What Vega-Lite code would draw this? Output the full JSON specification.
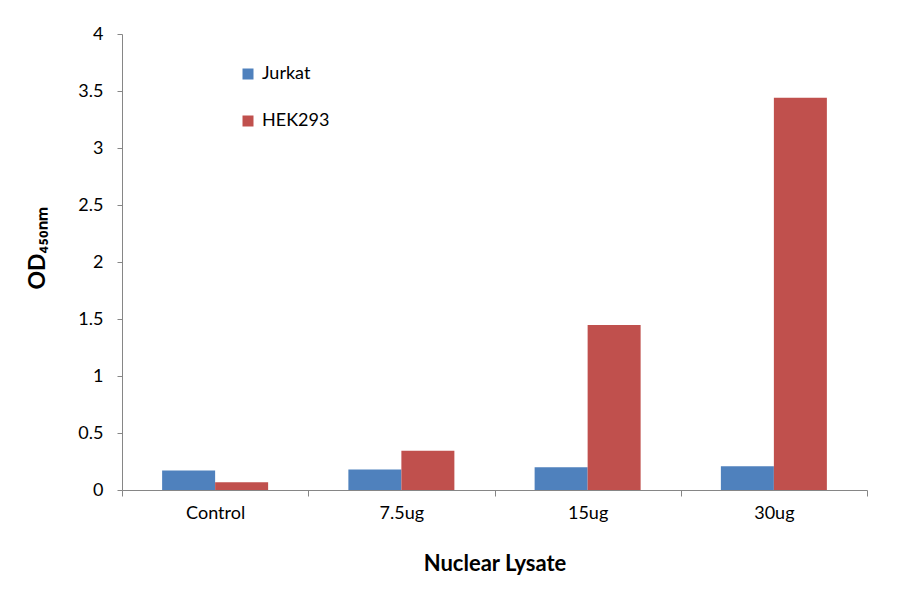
{
  "$schema": "https://vega.github.io/schema/vega-lite/v6.json",
  "width": 745,
  "height": 456,
  "autosize": "none",
  "padding": {"left": 122, "top": 34, "right": 33, "bottom": 104},
  "background": "white",
  "data": {
    "values": [
      {"lysate": "Control", "cell": "Jurkat", "od": 0.17},
      {"lysate": "Control", "cell": "HEK293", "od": 0.068},
      {"lysate": "7.5ug", "cell": "Jurkat", "od": 0.18},
      {"lysate": "7.5ug", "cell": "HEK293", "od": 0.345},
      {"lysate": "15ug", "cell": "Jurkat", "od": 0.199},
      {"lysate": "15ug", "cell": "HEK293", "od": 1.447},
      {"lysate": "30ug", "cell": "Jurkat", "od": 0.208},
      {"lysate": "30ug", "cell": "HEK293", "od": 3.44}
    ]
  },
  "mark": {"type": "bar"},
  "encoding": {
    "x": {
      "field": "lysate",
      "type": "nominal",
      "sort": ["Control", "7.5ug", "15ug", "30ug"],
      "scale": {"paddingInner": 0, "paddingOuter": 0},
      "axis": {
        "title": "Nuclear Lysate",
        "labelAngle": 0,
        "tickBand": "extent",
        "tickSize": 6,
        "labelPadding": 8,
        "titleFontSize": 22,
        "titleFontWeight": "bold",
        "titleBaseline": "middle",
        "titleY": 73
      }
    },
    "xOffset": {
      "field": "cell",
      "type": "nominal",
      "sort": ["Jurkat", "HEK293"],
      "scale": {"paddingInner": 0, "paddingOuter": 0.757}
    },
    "y": {
      "field": "od",
      "type": "quantitative",
      "scale": {"domain": [0, 4], "nice": false},
      "axis": {
        "title": "OD₄₅₀ₙₘ",
        "values": [0, 0.5, 1, 1.5, 2, 2.5, 3, 3.5, 4],
        "format": "~g",
        "grid": false,
        "tickSize": 5,
        "labelPadding": 14,
        "titleFontSize": 23,
        "titleFontWeight": "bold",
        "titleBaseline": "middle",
        "titleX": -85,
        "titleY": 214
      }
    },
    "color": {
      "field": "cell",
      "type": "nominal",
      "sort": ["Jurkat", "HEK293"],
      "scale": {"domain": ["Jurkat", "HEK293"], "range": ["#4F81BD", "#C0504D"]},
      "legend": {
        "title": null,
        "orient": "none",
        "legendX": 117,
        "legendY": 31,
        "symbolType": "square",
        "symbolSize": 121,
        "symbolStrokeWidth": 0,
        "labelFontSize": 18,
        "labelOffset": 5,
        "rowPadding": 29
      }
    }
  },
  "config": {
    "font": "Lato",
    "view": {"stroke": null},
    "axis": {
      "domainColor": "#868686",
      "tickColor": "#868686",
      "labelColor": "black",
      "titleColor": "black",
      "labelFontSize": 18,
      "labelFont": "Lato",
      "titleFont": "Lato"
    },
    "legend": {"labelColor": "black", "labelFont": "Lato"}
  }
}
